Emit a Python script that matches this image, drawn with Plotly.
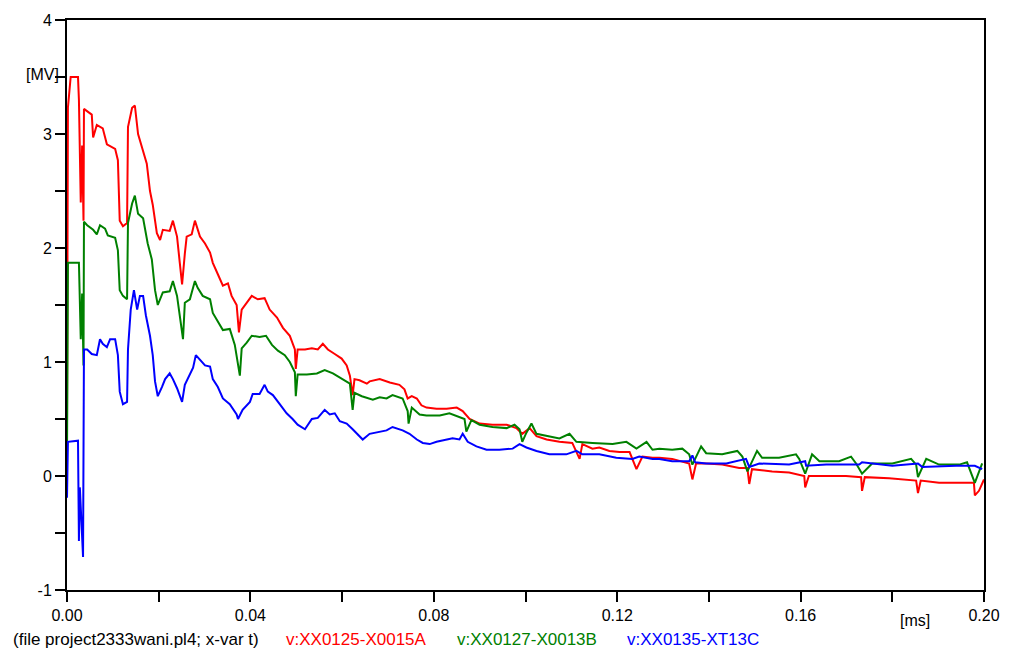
import plotly.graph_objects as go

# time [ms-axis units] and voltages [MV]
red_t = [0.0000, 0.0002, 0.0008, 0.0024, 0.0026, 0.0030, 0.0033, 0.0036, 0.0037, 0.0044, 0.0054, 0.0057,
         0.0065, 0.0078, 0.0087, 0.0105, 0.0111, 0.0115, 0.0122, 0.0131, 0.0133, 0.0142, 0.0148, 0.0155,
         0.0166, 0.0174, 0.0181, 0.0187, 0.0196, 0.0203, 0.0209, 0.0224, 0.0231, 0.0240, 0.0246, 0.0251,
         0.0257, 0.0261, 0.0272, 0.0279, 0.0290, 0.0301, 0.0312, 0.0318, 0.0329, 0.0340, 0.0351, 0.0359,
         0.0370, 0.0375, 0.0381, 0.0392, 0.0403, 0.0416, 0.0431, 0.0442, 0.0458, 0.0471, 0.0486, 0.0497,
         0.0499, 0.0503, 0.0519, 0.0534, 0.0547, 0.0558, 0.0569, 0.0584, 0.0599, 0.0610, 0.0617, 0.0623,
         0.0627, 0.0638, 0.0654, 0.0660, 0.0682, 0.0704, 0.0725, 0.0736, 0.0743, 0.0752, 0.0763, 0.0773,
         0.0784, 0.0806, 0.0828, 0.0850, 0.0863, 0.0878, 0.0900, 0.0928, 0.0959, 0.0980, 0.0993, 0.1009,
         0.1024, 0.1046, 0.1074, 0.1102, 0.1118, 0.1124, 0.1146, 0.1161, 0.1183, 0.1205, 0.1227, 0.1242,
         0.1255, 0.1277, 0.1292, 0.1320, 0.1357, 0.1364, 0.1372, 0.1394, 0.1429, 0.1466, 0.1484, 0.1488,
         0.1494, 0.1538, 0.1575, 0.1608, 0.1610, 0.1618, 0.1656, 0.1699, 0.1732, 0.1734, 0.1740, 0.1793,
         0.1852, 0.1856, 0.1862, 0.1902, 0.1946, 0.1978, 0.1980, 0.1989, 0.2000]
red_v = [0.42, 3.23, 3.50, 3.50, 3.30, 2.40, 2.90, 2.24, 3.22, 3.20, 3.17, 2.97,
         3.08, 3.05, 2.91, 2.87, 2.77, 2.24, 2.19, 2.22, 3.06, 3.23, 3.25, 3.00,
         2.85, 2.74, 2.50, 2.38, 2.13, 2.07, 2.16, 2.15, 2.24, 2.10, 1.87, 1.68,
         1.95, 2.10, 2.12, 2.24, 2.10, 2.04, 1.96, 1.87, 1.77, 1.67, 1.69, 1.58,
         1.50, 1.26, 1.46, 1.52, 1.58, 1.55, 1.56, 1.46, 1.39, 1.30, 1.23, 1.11,
         0.94, 1.11, 1.11, 1.12, 1.11, 1.16, 1.11, 1.07, 1.03, 0.97, 0.88, 0.71,
         0.85, 0.84, 0.81, 0.83, 0.85, 0.82, 0.80, 0.76, 0.68, 0.70, 0.68, 0.62,
         0.60, 0.59, 0.59, 0.60, 0.57, 0.50, 0.46, 0.45, 0.45, 0.42, 0.37, 0.42,
         0.35, 0.32, 0.30, 0.29, 0.15, 0.28, 0.24, 0.25, 0.22, 0.21, 0.21, 0.06,
         0.17, 0.16, 0.16, 0.15, 0.11, -0.03, 0.11, 0.11, 0.10, 0.07, 0.07, -0.07,
         0.06, 0.04, 0.03, 0.00, -0.10, 0.00, 0.00, 0.00, -0.01, -0.13, -0.01, -0.02,
         -0.04, -0.15, -0.04, -0.06, -0.06, -0.06, -0.17, -0.13, -0.03]

green_t = [0.0000, 0.0002, 0.0026, 0.0030, 0.0033, 0.0036, 0.0037, 0.0044, 0.0057, 0.0065, 0.0072, 0.0083,
           0.0089, 0.0105, 0.0111, 0.0115, 0.0122, 0.0131, 0.0133, 0.0142, 0.0148, 0.0155, 0.0166, 0.0176,
           0.0185, 0.0192, 0.0198, 0.0209, 0.0224, 0.0231, 0.0240, 0.0246, 0.0253, 0.0257, 0.0268, 0.0279,
           0.0285, 0.0296, 0.0312, 0.0318, 0.0329, 0.0340, 0.0355, 0.0366, 0.0377, 0.0381, 0.0392, 0.0403,
           0.0420, 0.0434, 0.0447, 0.0460, 0.0475, 0.0486, 0.0497, 0.0499, 0.0503, 0.0523, 0.0545, 0.0562,
           0.0580, 0.0601, 0.0617, 0.0623, 0.0627, 0.0643, 0.0667, 0.0682, 0.0697, 0.0710, 0.0732, 0.0743,
           0.0745, 0.0752, 0.0769, 0.0784, 0.0813, 0.0834, 0.0856, 0.0867, 0.0871, 0.0882, 0.0900, 0.0928,
           0.0959, 0.0976, 0.0987, 0.0993, 0.1002, 0.1013, 0.1024, 0.1046, 0.1074, 0.1096, 0.1111, 0.1146,
           0.1190, 0.1220, 0.1242, 0.1264, 0.1277, 0.1292, 0.1320, 0.1342, 0.1357, 0.1364, 0.1383, 0.1394,
           0.1429, 0.1462, 0.1473, 0.1484, 0.1505, 0.1516, 0.1553, 0.1590, 0.1597, 0.1610, 0.1625, 0.1641,
           0.1684, 0.1710, 0.1721, 0.1734, 0.1756, 0.1800, 0.1841, 0.1852, 0.1856, 0.1874, 0.1902, 0.1946,
           0.1963, 0.1980, 0.1996]
green_v = [0.16, 1.87, 1.87, 1.20, 1.60, 0.97, 2.23, 2.20, 2.16, 2.12, 2.20, 2.17,
           2.11, 2.09, 1.98, 1.63, 1.58, 1.55, 2.22, 2.39, 2.46, 2.30, 2.26, 2.04,
           1.90, 1.63, 1.50, 1.61, 1.62, 1.71, 1.58, 1.41, 1.20, 1.52, 1.55, 1.71,
           1.65, 1.58, 1.55, 1.43, 1.35, 1.28, 1.29, 1.15, 0.88, 1.12, 1.17, 1.23,
           1.22, 1.23, 1.15, 1.10, 1.06, 1.00, 0.91, 0.70, 0.89, 0.89, 0.90, 0.93,
           0.90, 0.85, 0.81, 0.58, 0.73, 0.70, 0.67, 0.69, 0.68, 0.71, 0.68, 0.57,
           0.46, 0.60, 0.54, 0.53, 0.53, 0.55, 0.52, 0.50, 0.39, 0.49, 0.45, 0.43,
           0.42, 0.45, 0.41, 0.30, 0.38, 0.46, 0.37, 0.35, 0.33, 0.37, 0.30, 0.29,
           0.28, 0.30, 0.24, 0.30, 0.23, 0.24, 0.23, 0.24, 0.19, 0.10, 0.26, 0.20,
           0.19, 0.22, 0.17, 0.04, 0.22, 0.16, 0.16, 0.19, 0.15, 0.02, 0.19, 0.13,
           0.13, 0.17, 0.11, 0.02, 0.11, 0.11, 0.15, 0.10, -0.01, 0.15, 0.10, 0.10,
           0.12, -0.06, 0.11]

blue_t = [0.0000, 0.0002, 0.0024, 0.0026, 0.0028, 0.0033, 0.0035, 0.0037, 0.0044, 0.0054, 0.0065, 0.0072,
          0.0078, 0.0087, 0.0094, 0.0105, 0.0111, 0.0115, 0.0122, 0.0131, 0.0133, 0.0139, 0.0146, 0.0153,
          0.0159, 0.0166, 0.0172, 0.0181, 0.0187, 0.0192, 0.0198, 0.0207, 0.0214, 0.0224, 0.0231, 0.0240,
          0.0251, 0.0257, 0.0268, 0.0275, 0.0281, 0.0290, 0.0301, 0.0312, 0.0318, 0.0329, 0.0340, 0.0355,
          0.0370, 0.0373, 0.0383, 0.0399, 0.0405, 0.0420, 0.0431, 0.0438, 0.0449, 0.0464, 0.0479, 0.0492,
          0.0503, 0.0519, 0.0534, 0.0547, 0.0562, 0.0573, 0.0584, 0.0595, 0.0610, 0.0623, 0.0638, 0.0645,
          0.0660, 0.0682, 0.0697, 0.0710, 0.0732, 0.0747, 0.0763, 0.0776, 0.0791, 0.0806, 0.0828, 0.0841,
          0.0856, 0.0863, 0.0874, 0.0893, 0.0915, 0.0943, 0.0972, 0.0987, 0.1002, 0.1024, 0.1052, 0.1089,
          0.1111, 0.1124, 0.1161, 0.1198, 0.1233, 0.1248, 0.1277, 0.1292, 0.1320, 0.1357, 0.1364, 0.1370,
          0.1394, 0.1438, 0.1481, 0.1488, 0.1510, 0.1575, 0.1610, 0.1612, 0.1656, 0.1728, 0.1734, 0.1800,
          0.1856, 0.1865, 0.1939, 0.1980, 0.1996]
blue_v = [-0.19, 0.30, 0.31, -0.57, -0.10, -0.62, -0.71, 1.11, 1.11, 1.07, 1.06, 1.20,
          1.16, 1.13, 1.20, 1.20, 1.06, 0.74, 0.63, 0.65, 1.11, 1.46, 1.63, 1.46,
          1.58, 1.58, 1.41, 1.23, 1.06, 0.83, 0.70, 0.78, 0.85, 0.90, 0.85, 0.77,
          0.65, 0.80, 0.89, 0.95, 1.06, 1.02, 0.97, 0.96, 0.85, 0.78, 0.68, 0.63,
          0.54, 0.50, 0.58, 0.65, 0.72, 0.72, 0.80, 0.74, 0.71, 0.63, 0.55, 0.50,
          0.45, 0.41, 0.50, 0.51, 0.58, 0.54, 0.55, 0.48, 0.46, 0.41, 0.35, 0.32,
          0.37, 0.39, 0.40, 0.43, 0.40, 0.37, 0.32, 0.29, 0.28, 0.30, 0.32, 0.33,
          0.32, 0.37, 0.30, 0.26, 0.23, 0.23, 0.24, 0.28, 0.25, 0.22, 0.19, 0.19,
          0.22, 0.19, 0.19, 0.16, 0.15, 0.17, 0.15, 0.15, 0.13, 0.13, 0.18, 0.12,
          0.11, 0.11, 0.15, 0.08, 0.11, 0.10, 0.13, 0.09, 0.10, 0.10, 0.12, 0.09,
          0.11, 0.08, 0.09, 0.09, 0.06]

x_tick_vals = [0.00, 0.04, 0.08, 0.12, 0.16, 0.20]
x_tick_text = ["0.00", "0.04", "0.08", "0.12", "0.16", "0.20"]
y_tick_vals = [-1, 0, 1, 2, 3, 4]
y_tick_text = ["-1", "0", "1", "2", "3", "4"]

series_names = ["v:XX0125-X0015A", "v:XX0127-X0013B", "v:XX0135-XT13C"]
series_colors = ["#ff0000", "#008000", "#0000ff"]
file_label = "(file project2333wani.pl4; x-var t)"

FONT = "Liberation Sans, Arial, sans-serif"

fig = go.Figure()
for t, v, name, col in [(red_t, red_v, series_names[0], series_colors[0]),
                        (green_t, green_v, series_names[1], series_colors[1]),
                        (blue_t, blue_v, series_names[2], series_colors[2])]:
    fig.add_trace(go.Scatter(x=t, y=v, mode="lines", name=name,
                             line=dict(color=col, width=2), showlegend=False))

axis_common = dict(showline=True, linecolor="black", linewidth=2, mirror=True,
                   showgrid=False, zeroline=False, ticks="outside", ticklen=10,
                   tickwidth=2, tickcolor="black",
                   tickfont=dict(family=FONT, size=16, color="black"))

fig.update_xaxes(range=[0, 0.2], tickvals=x_tick_vals, ticktext=x_tick_text,
                 minor=dict(dtick=0.02, ticks="outside", ticklen=10, tickwidth=1.5, tickcolor="black"),
                 **axis_common)
fig.update_yaxes(range=[-1, 4], tickvals=y_tick_vals, ticktext=y_tick_text,
                 minor=dict(dtick=0.5, ticks="outside", ticklen=10, tickwidth=1.5, tickcolor="black"),
                 **axis_common)

annotations = [
    dict(text="[MV]", xref="paper", yref="paper", x=-0.006, y=0.905, xanchor="right", yanchor="middle",
         showarrow=False, font=dict(family=FONT, size=16, color="black")),
    dict(text="[ms]", xref="paper", yref="paper", x=0.925, y=-0.035, xanchor="center", yanchor="top",
         showarrow=False, font=dict(family=FONT, size=16, color="black")),
    dict(text=file_label, xref="paper", yref="paper", x=-0.061, y=-0.066, xanchor="left", yanchor="top",
         showarrow=False, font=dict(family=FONT, size=17, color="black")),
]
legend_x = [0.237, 0.423, 0.608]
for name, col, lx in zip(series_names, series_colors, legend_x):
    annotations.append(dict(text=name, xref="paper", yref="paper", x=lx, y=-0.066, xanchor="left",
                            yanchor="top", showarrow=False,
                            font=dict(family=FONT, size=17, color=col)))

fig.update_layout(width=1012, height=660, margin=dict(l=67, r=27, t=15, b=70),
                  paper_bgcolor="white", plot_bgcolor="white", annotations=annotations,
                  font=dict(family=FONT))

fig.write_html("out.html")
